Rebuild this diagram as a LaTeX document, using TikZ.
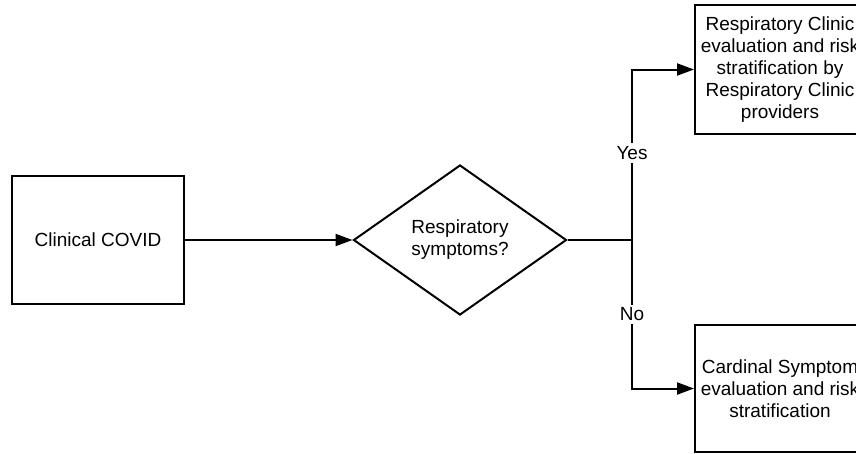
\documentclass[tikz,border=0pt]{standalone}
\usepackage{fontspec}
\setmainfont{Liberation Sans}
\usepackage{tikz}
\usetikzlibrary{arrows.meta,positioning,shapes.geometric}

\begin{document}
\begin{tikzpicture}[
    x=1pt, y=-1pt,
    box/.style={draw=black, line width=2pt, align=center, inner sep=0pt,
      font=\fontsize{19}{22}\selectfont},
    decision/.style={diamond, draw=black, line width=2pt, align=center,
      inner sep=0pt, minimum width=213pt, minimum height=150pt, aspect=1.42,
      font=\fontsize{19}{22}\selectfont},
    arrow/.style={-{Triangle[length=17pt,width=12pt]}, line width=2pt, draw=black},
    link/.style={line width=2pt, draw=black},
    answer/.style={fill=white, inner sep=3pt, font=\fontsize{19}{22}\selectfont}
  ]
    \useasboundingbox (0,0) rectangle (856,453);
    \clip (0,0) rectangle (856,453);
    \node[box, minimum width=172pt, minimum height=128pt] (covid) at (98,240) {Clinical COVID};
    \node[decision] (resp) at (460,240) {Respiratory\\symptoms?};
    \node[box, minimum width=170pt, minimum height=129pt] (clinic) at (780,69.5)
      {Respiratory Clinic\\evaluation and risk\\stratification by\\Respiratory Clinic\\providers};
    \node[box, minimum width=170pt, minimum height=127pt] (cardinal) at (780,388.5)
      {Cardinal Symptom\\evaluation and risk\\stratification};
    \coordinate (split) at (632,240);
    \draw[arrow] (covid) -- (resp);
    \draw[link] (resp) -- (split);
    \draw[arrow] (split) |- node[answer, pos=0.255] {Yes} (clinic.west);
    \draw[arrow] (split) |- node[answer, pos=0.25] {No} (cardinal.west);
  \end{tikzpicture}
\end{document}
